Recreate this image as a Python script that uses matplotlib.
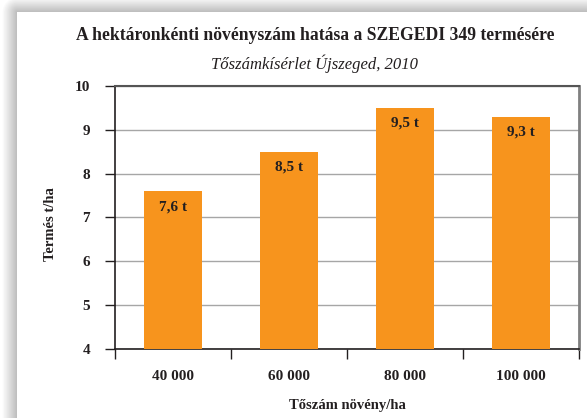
import numpy as np
import matplotlib
matplotlib.use("Agg")
import matplotlib.pyplot as plt

categories = ["40 000", "60 000", "80 000", "100 000"]
values = [7.6, 8.5, 9.5, 9.3]
bar_labels = ["7,6 t", "8,5 t", "9,5 t", "9,3 t"]
yticks = [4, 5, 6, 7, 8, 9, 10]

W, H = 587, 418
fig = plt.figure(figsize=(W / 100, H / 100), dpi=100)
fig.patch.set_facecolor("white")

# background shadow (left and top of panel)
bg = fig.add_axes([0, 0, 1, 1], zorder=-10)
bg.set_axis_off()
xx, yy = np.meshgrid(np.arange(W) + 0.5, np.arange(H) + 0.5)
px, py = 17, 12
ddx = np.clip(px - xx, 0, None)
ddy = np.clip(py - yy, 0, None)
d = np.sqrt(ddx ** 2 + ddy ** 2)
val = 0.74 + 0.26 * np.clip(d / 15.0, 0, 1)
val = np.where((xx >= px) & (yy >= py), 1.0, val)
bg.imshow(val, cmap="gray", vmin=0, vmax=1, extent=[0, W, H, 0], aspect="auto",
          interpolation="bilinear")
bg.set_xlim(0, W)
bg.set_ylim(H, 0)

serif = ["Liberation Serif", "DejaVu Serif"]
text_color = "#231f20"

ax = fig.add_axes([115 / W, 1 - 349 / H, (579 - 115) / W, (349 - 86) / H])
x = np.arange(len(categories))
ax.bar(x, values, width=0.5, color="#F7941D", zorder=3)
ax.set_ylim(4, 10)
ax.set_xlim(-0.5, len(categories) - 0.5)
ax.set_yticks(yticks)
ax.set_yticklabels([str(v) for v in yticks], fontfamily=serif, fontweight="bold",
                   fontsize=11, color=text_color)
ax.set_xticks(np.arange(len(categories) + 1) - 0.5)
ax.set_xticklabels([])
ax.set_xticks(x, minor=True)
ax.set_xticklabels(categories, minor=True, fontfamily=serif, fontweight="bold",
                   fontsize=11, color=text_color)
ax.tick_params(axis="x", which="minor", length=0, pad=15)
ax.tick_params(axis="both", which="major", length=7, width=1, color="#231f20",
               direction="out")
ax.tick_params(axis="y", pad=11)
ax.yaxis.grid(True, color="#a6a6a6", linewidth=1, zorder=0)
ax.set_axisbelow(True)
for s in ["left", "bottom"]:
    ax.spines[s].set_color("#231f20")
    ax.spines[s].set_linewidth(1.2)
ax.spines["top"].set_color("#555555")
ax.spines["top"].set_linewidth(1.5)
ax.spines["right"].set_color("#808080")
ax.spines["right"].set_linewidth(2)

for xi, v, lab in zip(x, values, bar_labels):
    ax.text(xi, v - 0.35, lab, ha="center", va="center", fontfamily=serif,
            fontweight="bold", fontsize=11, color=text_color, zorder=4)

ax.set_ylabel("Termés t/ha", fontfamily=serif, fontweight="bold", fontsize=10.5,
              color=text_color)
ax.yaxis.set_label_coords(-0.124, 0.475)
ax.set_xlabel("Tőszám növény/ha", fontfamily=serif, fontweight="bold", fontsize=10.5,
              color=text_color, labelpad=12)

fig.text(0.537, 1 - 36 / H, "A hektáronkénti növényszám hatása a SZEGEDI 349 termésére",
         ha="center", va="center", fontfamily=serif, fontweight="bold", fontsize=12.7,
         color=text_color)
fig.text(0.535, 1 - 64 / H, "Tőszámkísérlet Újszeged, 2010", ha="center", va="center",
         fontfamily=serif, fontstyle="italic", fontsize=12, color=text_color)

fig.savefig("out.png", dpi=100, facecolor="white")
